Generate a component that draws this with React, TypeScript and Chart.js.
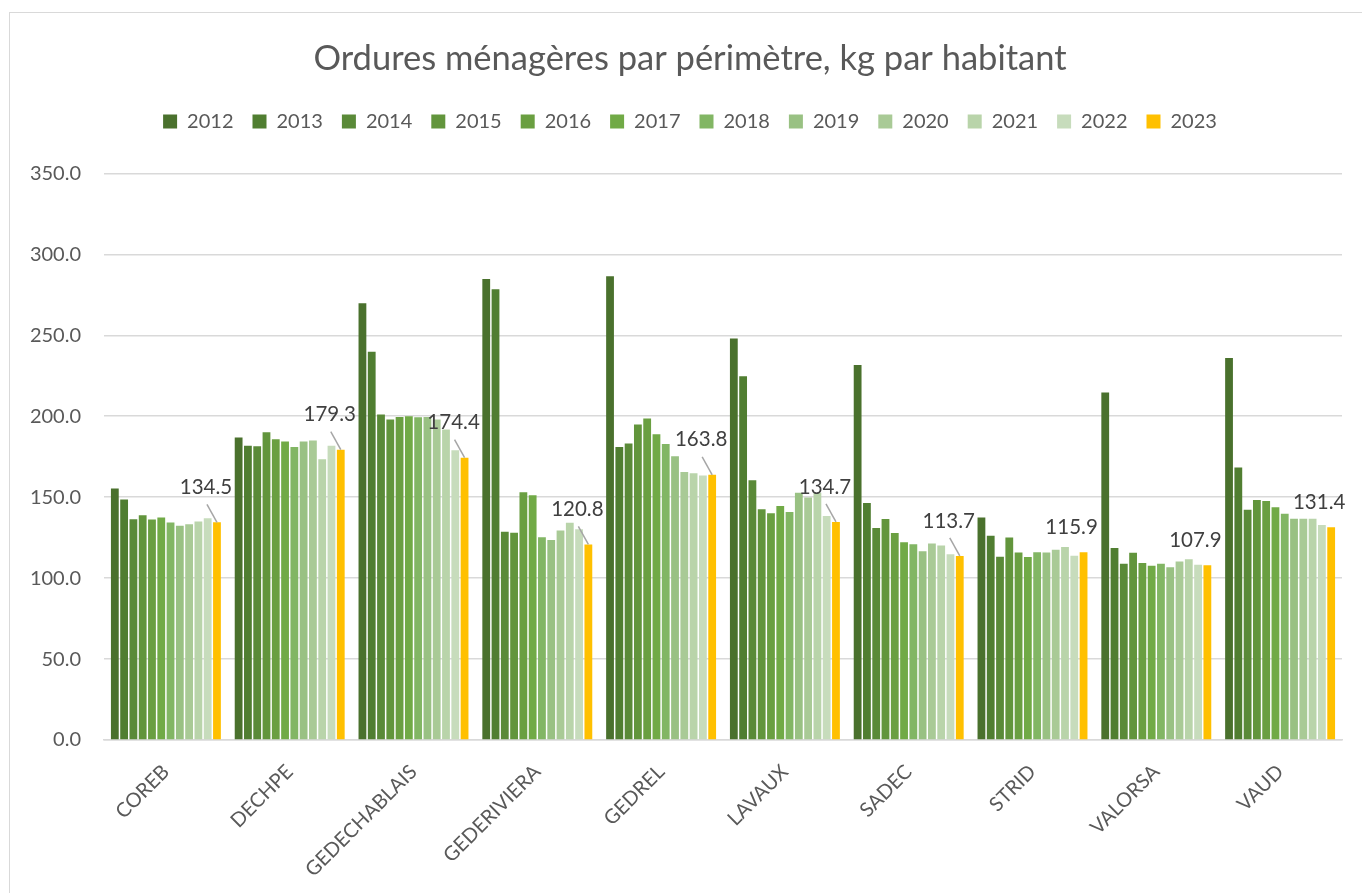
import React, { useEffect, useRef } from "react";
import { Chart, registerables } from "chart.js";

Chart.register(...registerables);

const categories = ["COREB", "DECHPE", "GEDECHABLAIS", "GEDERIVIERA", "GEDREL", "LAVAUX", "SADEC", "STRID", "VALORSA", "VAUD"];
const years = ["2012", "2013", "2014", "2015", "2016", "2017", "2018", "2019", "2020", "2021", "2022", "2023"];

const v2012 = [155.4, 186.8, 269.8, 284.8, 286.4, 248.0, 231.7, 137.4, 214.7, 235.9];
const v2013 = [148.6, 181.7, 239.9, 278.4, 181.0, 224.7, 146.4, 126.1, 118.6, 168.3];
const v2014 = [136.4, 181.5, 201.0, 128.6, 183.1, 160.5, 130.9, 113.2, 108.9, 142.3];
const v2015 = [138.9, 190.1, 198.0, 128.0, 194.9, 142.6, 136.5, 125.1, 115.6, 148.2];
const v2016 = [136.2, 185.8, 199.6, 153.1, 198.6, 140.1, 127.9, 115.8, 109.3, 147.7];
const v2017 = [137.4, 184.4, 200.0, 151.2, 188.9, 144.6, 122.2, 113.0, 107.6, 143.8];
const v2018 = [134.4, 181.0, 199.4, 125.3, 182.9, 140.9, 120.9, 116.0, 108.9, 139.7];
const v2019 = [132.3, 184.4, 199.6, 123.5, 175.3, 152.7, 116.6, 115.8, 106.7, 136.7];
const v2020 = [133.3, 185.0, 198.0, 129.4, 165.6, 149.8, 121.4, 117.5, 110.2, 136.7];
const v2021 = [135.0, 173.5, 191.8, 134.2, 164.8, 152.8, 120.1, 119.2, 111.7, 136.7];
const v2022 = [137.0, 181.7, 179.0, 130.2, 163.4, 138.3, 114.7, 113.8, 108.2, 132.8];
const v2023 = [134.5, 179.3, 174.4, 120.8, 163.8, 134.7, 113.7, 115.9, 107.9, 131.4];

const seriesValues = [v2012, v2013, v2014, v2015, v2016, v2017, v2018, v2019, v2020, v2021, v2022, v2023];

const colors = [
  "#4A712D", "#507E31", "#5A8A38", "#62953C", "#6A9F41", "#71AA46",
  "#82B664", "#99C183", "#A9CA96", "#B9D4AA", "#C7DCBC", "#FFC000",
];

// whether the 2023 value label shows a leader line
const leaderLines = [true, true, true, true, true, true, true, false, false, false];

const FONT = "Lato, 'Liberation Sans', sans-serif";

const legendHeightPlugin = {
  id: "legendHeight",
  beforeInit(chart: any) {
    const legend = chart.legend;
    if (!legend) return;
    const origFit = legend.fit;
    legend.fit = function () {
      origFit.call(this);
      this.height = 81;
    };
  },
  afterLayout(chart: any) {
    // center title & legend on the whole frame rather than on the padded box
    const shift = 19;
    [chart.titleBlock, chart.legend].forEach((b: any) => {
      if (b) {
        b.left += shift;
        b.right += shift;
      }
    });
  },
};

const labelPlugin = {
  id: "lastSeriesLabels",
  afterDatasetsDraw(chart: any) {
    const ctx = chart.ctx;
    const idx = seriesValues.length - 1;
    const meta = chart.getDatasetMeta(idx);
    ctx.save();
    ctx.font = `20.5px ${FONT}`;
    ctx.fillStyle = "#404040";
    ctx.textAlign = "center";
    ctx.textBaseline = "middle";
    meta.data.forEach((bar: any, i: number) => {
      const x = bar.x;
      const y = bar.y;
      const lead = leaderLines[i];
      const tx = lead ? x - 11 : x - 12;
      const ty = lead ? y - 35 : y - 25;
      ctx.fillText(v2023[i].toFixed(1), tx, ty);
      if (lead) {
        ctx.strokeStyle = "#A6A6A6";
        ctx.lineWidth = 1.5;
        ctx.beginPath();
        ctx.moveTo(x - 10, y - 18);
        ctx.lineTo(x, y);
        ctx.stroke();
      }
    });
    ctx.restore();
  },
};

export default function App() {
  const ref = useRef<HTMLCanvasElement>(null);

  useEffect(() => {
    document.body.style.margin = "0";
    document.body.style.overflow = "hidden";
    const chart = new Chart(ref.current as HTMLCanvasElement, {
      type: "bar",
      data: {
        labels: categories,
        datasets: years.map((y, i) => ({
          label: y,
          data: seriesValues[i],
          backgroundColor: colors[i],
          borderWidth: 0,
          barPercentage: 0.84,
          categoryPercentage: 0.9,
        })),
      },
      options: {
        responsive: false,
        animation: false,
        layout: { padding: { left: 0, right: 20, top: 0, bottom: 0 } },
        plugins: {
          title: {
            display: true,
            text: "Ordures ménagères par périmètre, kg par habitant",
            color: "#595959",
            font: { family: FONT, size: 34.5, weight: "normal" },
            padding: { top: 38, bottom: 13 },
          },
          legend: {
            display: true,
            position: "top",
            labels: {
              color: "#595959",
              font: { family: FONT, size: 20 },
              boxWidth: 14,
              boxHeight: 14,
              padding: 19,
            },
          },
          tooltip: { enabled: false },
        },
        scales: {
          x: {
            grid: { display: false },
            border: { color: "#D9D9D9", width: 1.5 },
            ticks: {
              color: "#595959",
              font: { family: FONT, size: 20 },
              minRotation: 45,
              maxRotation: 45,
              padding: 12,
            },
            afterFit: (scale: any) => {
              scale.height = 153;
            },
          },
          y: {
            min: 0,
            max: 350,
            grid: { color: "#D9D9D9", lineWidth: 1.5, drawTicks: false },
            border: { display: false },
            ticks: {
              stepSize: 50,
              color: "#595959",
              font: { family: FONT, size: 20 },
              padding: 23,
              callback: (v: any) => Number(v).toFixed(1),
            },
            afterFit: (scale: any) => {
              scale.width = 104;
            },
          },
        },
      },
      plugins: [legendHeightPlugin, labelPlugin],
    });
    return () => chart.destroy();
  }, []);

  return (
    <div style={{ position: "fixed", left: 0, top: 0, width: 1362, height: 893, overflow: "hidden", background: "#fff" }}>
      <div style={{ position: "absolute", left: 9, top: 12, width: 1400, height: 1000, border: "1.5px solid #D9D9D9" }} />
      <canvas ref={ref} width={1362} height={893} style={{ position: "absolute", left: 0, top: 0 }} />
    </div>
  );
}
